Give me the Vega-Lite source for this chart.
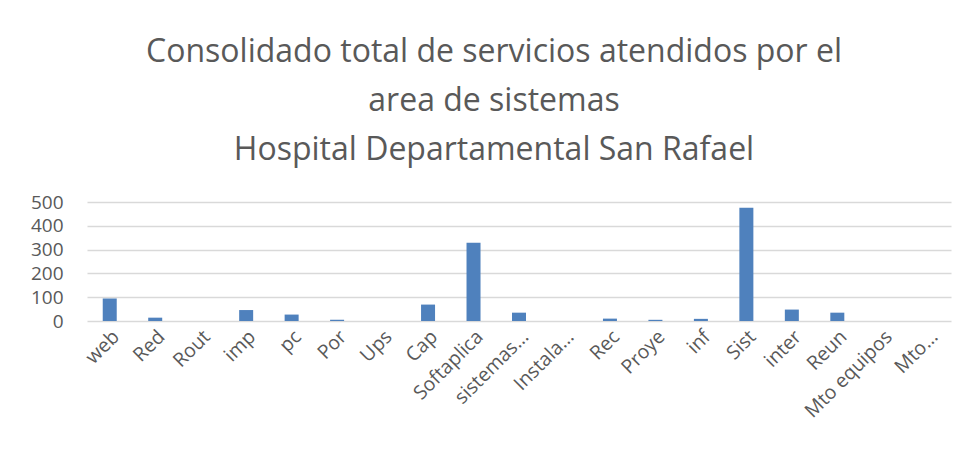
{
  "$schema": "https://vega.github.io/schema/vega-lite/v6.json",
  "width": 864,
  "height": 119,
  "padding": {"left": 30, "top": 36, "right": 10, "bottom": 5},
  "background": "white",
  "title": {
    "text": ["Consolidado total de servicios atendidos por el", "area de sistemas", "Hospital Departamental San Rafael"],
    "font": "Open Sans",
    "fontSize": 32,
    "fontWeight": "normal",
    "lineHeight": 49,
    "color": "#595959",
    "anchor": "middle",
    "dx": -25,
    "offset": 26
  },
  "data": {
    "values": [
      {"cat": "web", "n": 95},
      {"cat": "Red", "n": 14},
      {"cat": "Rout", "n": 0},
      {"cat": "imp", "n": 46},
      {"cat": "pc", "n": 27},
      {"cat": "Por", "n": 5},
      {"cat": "Ups", "n": 0},
      {"cat": "Cap", "n": 69},
      {"cat": "Softaplica", "n": 329},
      {"cat": "sistemas…", "n": 35},
      {"cat": "Instala…", "n": 0},
      {"cat": "Rec", "n": 10},
      {"cat": "Proye", "n": 5},
      {"cat": "inf", "n": 9},
      {"cat": "Sist", "n": 476},
      {"cat": "inter", "n": 48},
      {"cat": "Reun", "n": 35},
      {"cat": "Mto equipos", "n": 0},
      {"cat": "Mto…", "n": 0}
    ]
  },
  "mark": {"type": "bar", "color": "#4f81bd", "size": 14},
  "encoding": {
    "x": {
      "field": "cat",
      "type": "nominal",
      "sort": null,
      "scale": {"paddingInner": 0, "paddingOuter": 0},
      "axis": {
        "title": null,
        "labelAngle": -45,
        "labelFont": "Open Sans",
        "labelFontSize": 19.5,
        "labelColor": "#595959",
        "labelPadding": 6,
        "ticks": false,
        "domain": false,
        "grid": false
      }
    },
    "y": {
      "field": "n",
      "type": "quantitative",
      "scale": {"domain": [0, 500], "nice": false},
      "axis": {
        "title": null,
        "values": [0, 100, 200, 300, 400, 500],
        "labelFont": "Open Sans",
        "labelFontSize": 19,
        "labelColor": "#595959",
        "labelPadding": 24,
        "ticks": false,
        "domain": false,
        "gridColor": "#d9d9d9",
        "gridWidth": 1.5
      }
    }
  },
  "config": {
    "view": {"stroke": null}
  }
}
